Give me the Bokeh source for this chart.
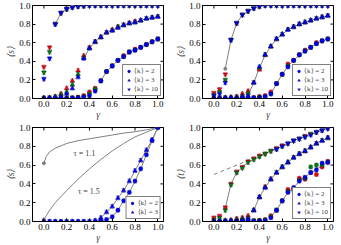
import math
from bokeh.plotting import figure
from bokeh.layouts import column, row
from bokeh.models import (ColumnDataSource, Whisker, TeeHead, Legend, LegendItem,
                          Range1d, Label, FixedTicker, PrintfTickFormatter)
from bokeh.embed import file_html
from bokeh.resources import INLINE

NaN = float("nan")

# ---------------- data ----------------
gamma = [0.00, 0.05, 0.10, 0.15, 0.20, 0.25, 0.30, 0.35, 0.40, 0.45, 0.50,
         0.55, 0.60, 0.65, 0.70, 0.75, 0.80, 0.85, 0.90, 0.95, 1.00]
x_ticks = [0.0, 0.2, 0.4, 0.6, 0.8, 1.0]
y_ticks = [0.0, 0.2, 0.4, 0.6, 0.8, 1.0]
legend_labels = ["⟨k⟩ = 2", "⟨k⟩ = 3", "⟨k⟩ = 10"]

# panel A (top left)  <s>
A_k10_r = [0.34, 0.55, 0.80, 0.92, 0.96, 0.98, 0.99, 0.995, 1.0, 1.0, 1.0, 1.0, 1.0, 1.0, 1.0, 1.0, 1.0, 1.0, 1.0, 1.0, 1.0]
A_k10_g = [0.28, 0.50, 0.80, 0.92, 0.96, 0.98, 0.99, 0.995, 1.0, 1.0, 1.0, 1.0, 1.0, 1.0, 1.0, 1.0, 1.0, 1.0, 1.0, 1.0, 1.0]
A_k10_b = [0.21, 0.43, 0.80, 0.92, 0.965, 0.98, 0.99, 0.995, 1.0, 1.0, 1.0, 1.0, 1.0, 1.0, 1.0, 1.0, 1.0, 1.0, 1.0, 1.0, 1.0]
A_k10_th = [0.80, 0.92, 0.965, 0.98, 0.99, 0.995, 1.0, 1.0, 1.0, 1.0, 1.0, 1.0, 1.0, 1.0, 1.0, 1.0, 1.0, 1.0, 1.0]
A_k3_r = [0.005, 0.01, 0.02, 0.05, 0.11, 0.19, 0.30, 0.46, 0.55, 0.61, 0.66, 0.71, 0.74, 0.77, 0.79, 0.81, 0.83, 0.84, 0.86, 0.87, 0.88]
A_k3_g = [0.004, 0.008, 0.02, 0.04, 0.07, 0.15, 0.26, 0.44, 0.54, 0.61, 0.66, 0.71, 0.73, 0.77, 0.79, 0.81, 0.82, 0.84, 0.86, 0.87, 0.88]
A_k3_b = [0.002, 0.005, 0.01, 0.02, 0.05, 0.11, 0.23, 0.43, 0.54, 0.61, 0.66, 0.71, 0.73, 0.76, 0.79, 0.81, 0.82, 0.84, 0.86, 0.87, 0.88]
A_k3_th = [0.43, 0.54, 0.61, 0.66, 0.71, 0.73, 0.76, 0.79, 0.81, 0.82, 0.84, 0.86, 0.87, 0.88]
A_k2_r = [0.0, 0.0, 0.0, 0.002, 0.004, 0.008, 0.015, 0.03, 0.07, 0.11, 0.19, 0.29, 0.35, 0.41, 0.46, 0.50, 0.53, 0.55, 0.58, 0.61, 0.64]
A_k2_g = [0.0, 0.0, 0.0, 0.001, 0.003, 0.006, 0.012, 0.02, 0.05, 0.10, 0.19, 0.29, 0.35, 0.41, 0.45, 0.50, 0.52, 0.55, 0.58, 0.61, 0.64]
A_k2_b = [0.0, 0.0, 0.0, 0.0, 0.002, 0.004, 0.008, 0.015, 0.03, 0.08, 0.19, 0.29, 0.35, 0.41, 0.45, 0.50, 0.52, 0.55, 0.58, 0.61, 0.64]
A_k2_th = [0.19, 0.29, 0.35, 0.41, 0.45, 0.50, 0.52, 0.55, 0.58, 0.61, 0.64]

# panel B (top right)  <s>
B_k10_r = [0.06, 0.10, 0.26, 0.63, 0.81, 0.90, 0.94, 0.97, 0.99, 1.0, 1.0, 1.0, 1.0, 1.0, 1.0, 1.0, 1.0, 1.0, 1.0, 1.0, 1.0]
B_k10_g = [0.04, 0.07, 0.20, 0.63, 0.81, 0.90, 0.94, 0.97, 0.99, 1.0, 1.0, 1.0, 1.0, 1.0, 1.0, 1.0, 1.0, 1.0, 1.0, 1.0, 1.0]
B_k10_b = [0.03, 0.05, 0.17, 0.63, 0.81, 0.90, 0.94, 0.97, 0.99, 1.0, 1.0, 1.0, 1.0, 1.0, 1.0, 1.0, 1.0, 1.0, 1.0, 1.0, 1.0]
B_k10_th = [0.32, 0.63, 0.81, 0.90, 0.94, 0.97, 0.99, 1.0, 1.0, 1.0, 1.0, 1.0, 1.0, 1.0, 1.0, 1.0, 1.0, 1.0, 1.0]
B_k3_r = [0.01, 0.01, 0.01, 0.015, 0.02, 0.05, 0.08, 0.17, 0.31, 0.47, 0.56, 0.64, 0.69, 0.74, 0.77, 0.80, 0.82, 0.84, 0.86, 0.875, 0.89]
B_k3_g = [0.005, 0.008, 0.01, 0.01, 0.015, 0.03, 0.06, 0.17, 0.33, 0.47, 0.56, 0.64, 0.69, 0.74, 0.77, 0.80, 0.82, 0.84, 0.86, 0.875, 0.89]
B_k3_b = [0.003, 0.005, 0.005, 0.008, 0.01, 0.02, 0.03, 0.17, 0.34, 0.47, 0.56, 0.64, 0.69, 0.74, 0.77, 0.80, 0.82, 0.84, 0.86, 0.875, 0.89]
B_k3_th = [0.04, 0.17, 0.33, 0.47, 0.56, 0.64, 0.69, 0.74, 0.77, 0.80, 0.82, 0.84, 0.86, 0.875, 0.89]
B_k2_r = [0.0, 0.0, 0.0, 0.0, 0.002, 0.004, 0.006, 0.01, 0.02, 0.03, 0.07, 0.16, 0.26, 0.37, 0.41, 0.47, 0.52, 0.55, 0.60, 0.62, 0.64]
B_k2_g = [0.0, 0.0, 0.0, 0.0, 0.001, 0.003, 0.005, 0.008, 0.015, 0.02, 0.05, 0.16, 0.26, 0.35, 0.41, 0.47, 0.51, 0.55, 0.59, 0.62, 0.64]
B_k2_b = [0.0, 0.0, 0.0, 0.0, 0.0, 0.002, 0.004, 0.006, 0.01, 0.02, 0.05, 0.16, 0.26, 0.34, 0.41, 0.47, 0.51, 0.55, 0.59, 0.62, 0.64]
B_k2_th = [0.05, 0.16, 0.26, 0.35, 0.41, 0.47, 0.51, 0.55, 0.59, 0.62, 0.64]

# panel C (bottom left)  <s>
C_k3_b = [0.0, 0.0, 0.0, 0.0, 0.0, 0.0, 0.0, 0.0, 0.0, 0.01, 0.04, 0.10, 0.16, 0.25, 0.33, 0.43, 0.54, 0.65, 0.76, 0.87, 1.0]
C_k3_th = [0.0, 0.04, 0.10, 0.16, 0.25, 0.33, 0.43, 0.54, 0.65, 0.76, 0.87, 1.0]
C_k2_b = [0.0, 0.0, 0.0, 0.0, 0.0, 0.0, 0.0, 0.0, 0.0, 0.0, 0.01, 0.02, 0.05, 0.12, 0.22, 0.31, 0.43, 0.56, 0.71, 0.86, 1.0]
C_k2_th = [0.0, 0.01, 0.02, 0.05, 0.12, 0.22, 0.31, 0.43, 0.56, 0.71, 0.86, 1.0]
gamma_tau = [0.0, 0.02, 0.05, 0.1, 0.2, 0.3, 0.4, 0.5, 0.6, 0.7, 0.8, 0.9, 1.0]
tau_11 = [0.62, 0.69, 0.74, 0.78, 0.83, 0.86, 0.88, 0.90, 0.92, 0.94, 0.955, 0.975, 1.0]
tau_15 = [0.02, 0.06, 0.12, 0.20, 0.33, 0.45, 0.56, 0.66, 0.75, 0.83, 0.90, 0.95, 1.0]
tau_labels = ["τ = 1.1", "τ = 1.5"]

# panel D (bottom right)  <t>
D_ref_x = [0.0, 1.0]
D_ref_t = [0.5, 1.0]
D_k10_r = [0.04, 0.06, 0.15, 0.40, 0.53, 0.58, 0.64, 0.67, 0.70, 0.72, 0.75, 0.78, 0.81, 0.83, 0.86, 0.88, 0.91, 0.93, 0.95, 0.97, 0.99]
D_k10_g = [0.02, 0.04, 0.12, 0.39, 0.52, 0.57, 0.63, 0.66, 0.69, 0.72, 0.75, 0.77, 0.80, 0.83, 0.86, 0.88, 0.90, 0.93, 0.95, 0.97, 0.99]
D_k10_b = [NaN, NaN, NaN, NaN, NaN, NaN, NaN, NaN, NaN, NaN, NaN, 0.77, 0.80, 0.83, 0.86, 0.88, 0.90, 0.92, 0.95, 0.97, 0.99]
D_k10_th = [0.14, 0.40, 0.52, 0.58, 0.63, 0.66, 0.69, 0.72, 0.75, 0.77, 0.80, 0.83, 0.86, 0.88, 0.90, 0.92, 0.95, 0.97, 0.99]
D_k3_r = [0.01, 0.01, 0.01, 0.015, 0.03, 0.04, 0.06, 0.12, 0.26, 0.37, 0.45, 0.52, 0.58, 0.63, 0.68, 0.72, 0.75, 0.79, 0.83, 0.86, 0.89]
D_k3_g = [0.005, 0.008, 0.01, 0.01, 0.02, 0.03, 0.04, 0.12, 0.26, 0.36, 0.45, 0.52, 0.58, 0.63, 0.68, 0.72, 0.75, 0.79, 0.83, 0.86, 0.89]
D_k3_b = [0.002, 0.004, 0.005, 0.008, 0.01, 0.015, 0.03, 0.12, 0.26, 0.36, 0.45, 0.52, 0.58, 0.63, 0.68, 0.72, 0.75, 0.79, 0.83, 0.86, 0.89]
D_k3_th = [0.12, 0.26, 0.36, 0.45, 0.52, 0.58, 0.63, 0.68, 0.72, 0.75, 0.79, 0.83, 0.86, 0.89]
D_k2_r = [0.0, 0.0, 0.0, 0.0, 0.002, 0.004, 0.006, 0.01, 0.01, 0.02, 0.06, 0.12, 0.22, 0.34, 0.35, 0.46, 0.45, 0.52, 0.50, 0.58, 0.64]
D_k2_g = [0.0, 0.0, 0.0, 0.0, 0.001, 0.003, 0.004, 0.006, 0.01, 0.015, 0.05, 0.12, 0.22, 0.32, 0.33, 0.44, 0.46, 0.58, 0.60, 0.60, 0.63]
D_k2_b = [0.0, 0.0, 0.0, 0.0, 0.0, 0.002, 0.003, 0.005, 0.008, 0.01, 0.04, 0.12, 0.22, 0.31, 0.36, 0.43, 0.47, 0.52, 0.55, 0.62, 0.63]
D_k2_th = [0.05, 0.12, 0.22, 0.31, 0.36, 0.43, 0.47, 0.52, 0.55, 0.60, 0.63]

# ---------------- style ----------------
FONT = "Liberation Serif"
X_MIN, X_MAX = -0.1, 1.05
Y_MIN, Y_MAX = 0.0, 1.0
ERR = 0.02
COL = {"r": "#ff0000", "g": "#008000", "b": "#0000ff"}
ECOL = {"r": "#ff9a9a", "g": "#7fbf7f", "b": "#8c8cff"}
MARK = {2: "circle", 3: "triangle", 10: "inverted_triangle"}
MSIZE = {2: 4.2, 3: 4.8, 10: 4.8}


def make_fig(w, h, bl, br, bt, bb, ylabel):
    p = figure(width=w, height=h, x_range=Range1d(X_MIN, X_MAX), y_range=Range1d(Y_MIN, Y_MAX),
               output_backend="svg", toolbar_location=None,
               min_border_left=bl, min_border_right=br, min_border_top=bt, min_border_bottom=bb)
    p.grid.visible = False
    p.outline_line_color = "black"
    p.outline_line_width = 1
    p.outline_line_alpha = 1
    for ax, ticks, lab in ((p.xaxis[0], x_ticks, "γ"), (p.yaxis[0], y_ticks, ylabel)):
        ax.ticker = FixedTicker(ticks=ticks)
        ax.formatter = PrintfTickFormatter(format="%.1f")
        ax.major_tick_in = 3
        ax.major_tick_out = 0
        ax.minor_tick_line_color = None
        ax.axis_line_color = "black"
        ax.major_label_text_font = FONT
        ax.major_label_text_font_size = "9px"
        ax.major_label_text_color = "black"
        ax.major_label_standoff = 2
        ax.axis_label = lab
        ax.axis_label_text_font = FONT
        ax.axis_label_text_font_size = "9.5px"
        ax.axis_label_text_font_style = "italic"
        ax.axis_label_standoff = 0
    # inward tick marks on the top and right frame edges
    p.scatter(x_ticks, [Y_MAX] * len(x_ticks), marker="dash", angle=math.pi / 2, size=6,
              line_color="black", line_width=1)
    p.scatter([X_MAX] * len(y_ticks), y_ticks, marker="dash", size=6,
              line_color="black", line_width=1)
    return p


def theory(p, vals, color="#808080"):
    xs = gamma[len(gamma) - len(vals):]
    p.line(xs, vals, line_color=color, line_width=1)
    p.scatter([xs[0]], [vals[0]], size=3, color=color)


def series(p, vals, col, k):
    ok = [(x, v) for x, v in zip(gamma, vals) if not math.isnan(v)]
    xs = [a for a, _ in ok]
    ys = [b for _, b in ok]
    src = ColumnDataSource(dict(x=xs, y=ys, up=[v + ERR for v in ys], lo=[v - ERR for v in ys]))
    wk = Whisker(source=src, base="x", upper="up", lower="lo", line_color=ECOL[col], line_width=1,
                 upper_head=TeeHead(size=4, line_color=ECOL[col], line_width=1),
                 lower_head=TeeHead(size=4, line_color=ECOL[col], line_width=1))
    p.add_layout(wk)
    return p.scatter("x", "y", source=src, marker=MARK[k], size=MSIZE[k], fill_color=COL[col],
                     line_color="#000040", line_width=0.3)


def add_legend(p, rends, labels):
    items = [LegendItem(label=l, renderers=[r]) for l, r in zip(labels, rends)]
    lg = Legend(items=items, location="bottom_right", label_text_font=FONT,
                label_text_font_size="7px", label_height=8, glyph_height=8, glyph_width=7,
                label_standoff=2, padding=2, spacing=1, margin=2,
                border_line_color="black", border_line_width=1, background_fill_alpha=1)
    p.add_layout(lg)


def standard_panel(p, data, th):
    for k in (2, 3, 10):
        theory(p, th[k])
    blues = {}
    for col in ("r", "g", "b"):
        for k in (2, 3, 10):
            r = series(p, data[(k, col)], col, k)
            if col == "b":
                blues[k] = r
    add_legend(p, [blues[2], blues[3], blues[10]], legend_labels)


# ---- panel A
pA = make_fig(170, 122, 32, 7, 5, 19, "⟨s⟩")
standard_panel(pA, {(10, "r"): A_k10_r, (10, "g"): A_k10_g, (10, "b"): A_k10_b,
                    (3, "r"): A_k3_r, (3, "g"): A_k3_g, (3, "b"): A_k3_b,
                    (2, "r"): A_k2_r, (2, "g"): A_k2_g, (2, "b"): A_k2_b},
               {10: A_k10_th, 3: A_k3_th, 2: A_k2_th})

# ---- panel B
pB = make_fig(171, 122, 32, 8, 5, 19, "⟨s⟩")
standard_panel(pB, {(10, "r"): B_k10_r, (10, "g"): B_k10_g, (10, "b"): B_k10_b,
                    (3, "r"): B_k3_r, (3, "g"): B_k3_g, (3, "b"): B_k3_b,
                    (2, "r"): B_k2_r, (2, "g"): B_k2_g, (2, "b"): B_k2_b},
               {10: B_k10_th, 3: B_k3_th, 2: B_k2_th})

# ---- panel C
pC = make_fig(170, 123, 32, 7, 5, 20, "⟨s⟩")
pC.line(gamma_tau, tau_11, line_color="#808080", line_width=1)
pC.scatter([gamma_tau[0]], [tau_11[0]], size=3, color="#808080")
pC.line(gamma_tau, tau_15, line_color="#808080", line_width=1)
pC.scatter([gamma_tau[0]], [tau_15[0]], size=3, color="#808080")
theory(pC, C_k3_th)
theory(pC, C_k2_th)
rc3 = series(pC, C_k3_b, "b", 3)
rc2 = series(pC, C_k2_b, "b", 2)
pC.add_layout(Label(x=0.26, y=0.72, text=tau_labels[0], text_font=FONT, text_font_size="8px",
                    text_baseline="middle"))
pC.add_layout(Label(x=0.30, y=0.32, text=tau_labels[1], text_font=FONT, text_font_size="8px",
                    text_baseline="middle"))
add_legend(pC, [rc2, rc3], legend_labels[:2])

# ---- panel D
pD = make_fig(171, 123, 32, 8, 5, 20, "⟨t⟩")
pD.line(D_ref_x, D_ref_t, line_color="#808080", line_width=1, line_dash="4 3")
standard_panel(pD, {(10, "r"): D_k10_r, (10, "g"): D_k10_g, (10, "b"): D_k10_b,
                    (3, "r"): D_k3_r, (3, "g"): D_k3_g, (3, "b"): D_k3_b,
                    (2, "r"): D_k2_r, (2, "g"): D_k2_g, (2, "b"): D_k2_b},
               {10: D_k10_th, 3: D_k3_th, 2: D_k2_th})

layout = column(row(pA, pB), row(pC, pD))
open("out.html", "w").write(file_html(layout, INLINE))
